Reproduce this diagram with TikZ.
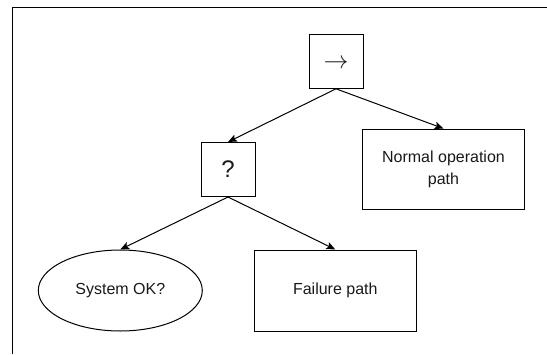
\documentclass[tikz,border=0pt]{standalone}
\usepackage{fontspec}
\setmainfont{Liberation Sans}
\usetikzlibrary{arrows.meta,shapes.geometric}
\tikzset{
  box/.style={draw=black, line width=1pt, rectangle, inner sep=0pt, align=center,
    font=\fontsize{16}{21.5}\selectfont, text=black!90},
  symbox/.style={box, minimum width=54pt, minimum height=54pt, font=\fontsize{24}{28}\selectfont},
  leafbox/.style={box, minimum width=162pt, minimum height=81pt},
  leafell/.style={box, ellipse, minimum width=164pt, minimum height=81pt},
  conn/.style={draw=black, line width=1pt, -{Stealth[length=9pt,width=7.5pt,inset=2pt]}},
  frame/.style={draw=black, line width=1.4pt}
}
\begin{document}
\begin{tikzpicture}[x=1pt,y=-1pt]
\useasboundingbox (0,0) rectangle (547,354);
\coordinate (fa) at (12.5,354);
\coordinate (fb) at (12.5,7.5);
\coordinate (fc) at (547,7.5);
\draw[frame] (fa) -- (fb) -- (fc);
\node[symbox, font=\fontsize{26}{30}\selectfont] (seq) at (336,61.3) {\raisebox{-3pt}[\height][\depth]{$\rightarrow$}};
\node[symbox] (fb2) at (228,169.5) {?};
\node[leafbox, minimum width=161.5pt, minimum height=80.5pt] (normal) at (443.5,169.3) {Normal operation\\path};
\node[leafell] (ok) at (120.3,290.5) {System OK?};
\node[leafbox] (fail) at (335.3,290.5) {Failure path};
\draw[conn] (seq.south) -- (fb2.north);
\draw[conn] (seq.south) -- (normal.north);
\draw[conn] (fb2.south) -- (ok.north);
\draw[conn] (fb2.south) -- (fail.north);
\end{tikzpicture}
\end{document}
